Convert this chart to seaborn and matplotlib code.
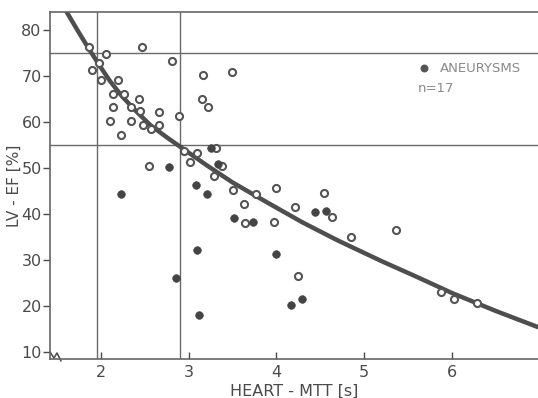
import numpy as np
import pandas as pd
import matplotlib
matplotlib.use('Agg')
import matplotlib.pyplot as plt
import seaborn as sns

# open circles: all patients without aneurysm
mtt_open = [1.87, 2.06, 2.47, 1.98, 1.90, 2.81, 2.00, 2.20, 2.14, 2.26, 2.43, 2.14,
            2.34, 2.44, 2.66, 2.10, 2.34, 2.89, 2.48, 2.57, 2.66, 2.23, 2.55, 2.95,
            3.02, 3.10, 3.16, 3.15, 3.22, 3.49, 3.31, 3.38, 3.29, 3.50, 3.77, 4.00,
            3.63, 4.21, 3.64, 3.97, 4.54, 4.63, 4.85, 4.25, 5.36, 5.87, 6.02, 6.29]
ef_open = [76.1, 74.7, 76.1, 72.8, 71.2, 73.1, 69.0, 69.0, 66.1, 66.1, 65.0, 63.1,
           63.1, 62.3, 62.1, 60.1, 60.1, 61.2, 59.2, 58.3, 59.2, 57.2, 50.3, 53.6,
           51.3, 53.1, 70.1, 65.0, 63.2, 70.8, 54.2, 50.4, 48.2, 45.1, 44.2, 45.5,
           42.2, 41.4, 37.9, 38.2, 44.5, 39.3, 35.0, 26.4, 36.4, 23.1, 21.6, 20.7]

# filled dots: aneurysms
mtt_aneu = [2.78, 2.23, 3.08, 3.21, 3.10, 2.86, 3.12, 3.25, 3.33, 3.52, 3.73,
            4.44, 4.57, 4.00, 4.29, 4.17]
ef_aneu = [50.2, 44.4, 46.3, 44.4, 32.2, 26.1, 18.1, 54.3, 50.7, 39.0, 38.2,
           40.4, 40.7, 31.2, 21.5, 20.2]

# regression curve
curve_x = [1.61, 1.75, 1.86, 1.97, 2.10, 2.24, 2.40, 2.56, 2.75, 2.96, 3.20, 3.50,
           3.90, 4.30, 4.70, 5.20, 5.60, 6.00, 6.50, 6.98]
curve_y = [83.8, 79.3, 75.9, 72.6, 68.9, 65.5, 62.3, 59.3, 56.6, 53.8, 50.6, 46.8,
           42.4, 38.1, 34.2, 29.7, 26.3, 22.8, 18.9, 15.4]

ref_x = [1.955, 2.9]
ref_y = [75, 55]
xticks = [2, 3, 4, 5, 6]
yticks = [10, 20, 30, 40, 50, 60, 70, 80]

sns.set_style('ticks')
plt.rcParams['font.family'] = ['DejaVu Sans']
grey = '#555555'

fig = plt.figure(figsize=(5.38, 3.98), dpi=100)
ax = fig.add_axes([50 / 538, 39 / 398, 488 / 538, 347 / 398])

for v in ref_x:
    ax.axvline(v, color='#6a6a6a', lw=1.0, zorder=1)
for h in ref_y:
    ax.axhline(h, color='#6a6a6a', lw=1.0, zorder=1)

curve = pd.DataFrame({'x': curve_x, 'y': curve_y})
sns.lineplot(data=curve, x='x', y='y', ax=ax, color='#4e4e4e', lw=3.2,
             sort=True, zorder=2)

df_open = pd.DataFrame({'mtt': mtt_open, 'ef': ef_open})
sns.scatterplot(data=df_open, x='mtt', y='ef', ax=ax, marker='o', s=26,
                facecolor='white', edgecolor=grey, linewidth=1.5, zorder=3)
df_aneu = pd.DataFrame({'mtt': mtt_aneu, 'ef': ef_aneu})
sns.scatterplot(data=df_aneu, x='mtt', y='ef', ax=ax, marker='o', s=30,
                color='#444444', edgecolor='#444444', linewidth=0.5, zorder=3)

# legend note
ax.scatter([5.68], [71.6], s=22, color='#555555', zorder=3)
ax.text(5.86, 71.6, 'ANEURYSMS', fontsize=9.5, color='#8a8a8a', va='center',
        ha='left')
ax.text(5.61, 67.1, 'n=17', fontsize=9.5, color='#8a8a8a', va='center', ha='left')

ax.set_xlim(1.42, 6.98)
ax.set_ylim(8.48, 83.8)
ax.set_xticks(xticks)
ax.set_yticks(yticks)
ax.set_xlabel('HEART - MTT [s]', fontsize=11.5, color='#4a4a4a', labelpad=3)
ax.set_ylabel('LV - EF [%]', fontsize=11, color='#4a4a4a')
ax.yaxis.set_label_coords(-0.058, 0.5)
ax.tick_params(axis='x', direction='in', length=5, width=1.0, colors='#4a4a4a',
               labelsize=11.5, pad=4)
ax.tick_params(axis='y', direction='out', length=5, width=1.0, colors='#4a4a4a',
               labelsize=11.5, pad=1)

for side in ['left', 'bottom', 'top']:
    ax.spines[side].set_color('#666666')
    ax.spines[side].set_linewidth(1.2)
ax.spines['right'].set_visible(False)

# axis break mark
bx = [(p - 50) / 488 for p in [50, 54, 57, 61]]
by = [(359 - p) / 347 for p in [352, 358, 353, 361]]
ax.plot(bx, by, color='#555555', lw=1.2, transform=ax.transAxes, clip_on=False)

fig.savefig('out.png', dpi=100)
